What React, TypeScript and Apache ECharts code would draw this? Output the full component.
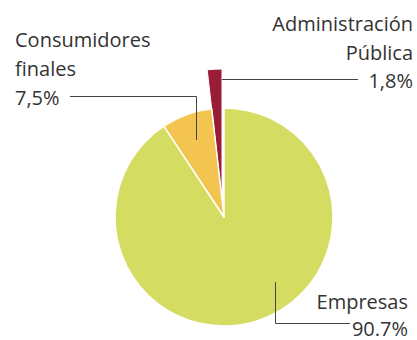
import React, { useEffect, useRef } from "react";
import * as echarts from "echarts";

const categories = ["Empresas", "Consumidores finales", "Administración Pública"];
const values = [90.7, 7.5, 1.8];
const valueLabels = ["90.7%", "7,5%", "1,8%"];
const colors = ["#d4dc62", "#f3c550", "#9a1d37"];

const FONT = "'Open Sans', Lato, sans-serif";
const TXT = "#333";
const LINE = "#444";

export default function App() {
  const ref = useRef<HTMLDivElement>(null);
  useEffect(() => {
    const chart = echarts.init(ref.current!, null, { renderer: "svg" });
    const mainData = categories.map((c, i) => ({
      name: c,
      value: values[i],
      itemStyle: i === 2 ? { color: "rgba(0,0,0,0)", borderWidth: 0 } : { color: colors[i] },
    }));
    const outData = categories.map((c, i) => ({
      name: c,
      value: values[i],
      itemStyle: i === 2 ? { color: colors[i] } : { color: "rgba(0,0,0,0)", borderWidth: 0 },
    }));
    const text = (s: string, x: number, y: number, align: string) => ({
      type: "text",
      x,
      y,
      z: 10,
      style: { text: s, font: `20px ${FONT}`, fill: TXT, textAlign: align, textVerticalAlign: "middle" },
    });
    const line = (pts: number[][]) => ({
      type: "polyline",
      z: 10,
      shape: { points: pts },
      style: { stroke: LINE, lineWidth: 1, fill: "none" },
    });
    chart.setOption({
      animation: false,
      series: [
        {
          type: "pie",
          z: 1,
          center: [222, 200],
          radius: 131,
          startAngle: 90,
          clockwise: true,
          label: { show: false },
          labelLine: { show: false },
          silent: true,
          itemStyle: { borderColor: "#fff", borderWidth: 1 },
          data: outData,
        },
        {
          type: "pie",
          z: 2,
          center: [224, 217],
          radius: 109,
          startAngle: 90,
          clockwise: true,
          label: { show: false },
          labelLine: { show: false },
          silent: true,
          itemStyle: { borderColor: "#fff", borderWidth: 1.5 },
          data: mainData,
        },
      ],
      graphic: [
        text("Consumidores", 15, 39, "left"),
        text("finales", 15, 68, "left"),
        text(valueLabels[1], 15, 97, "left"),
        line([[70, 96.5], [196.5, 96.5], [196.5, 140]]),
        text("Administración", 413, 23, "right"),
        text("Pública", 413, 52, "right"),
        text(valueLabels[2], 413, 80, "right"),
        line([[222, 79.5], [358, 79.5]]),
        text(categories[0], 408, 301, "right"),
        text(valueLabels[0], 408, 328, "right"),
        line([[275.5, 282], [275.5, 323.5], [350, 323.5]]),
      ],
    });
    return () => chart.dispose();
  }, []);
  return <div ref={ref} style={{ width: 417, height: 340, position: "absolute", left: 0, top: 0 }} />;
}
